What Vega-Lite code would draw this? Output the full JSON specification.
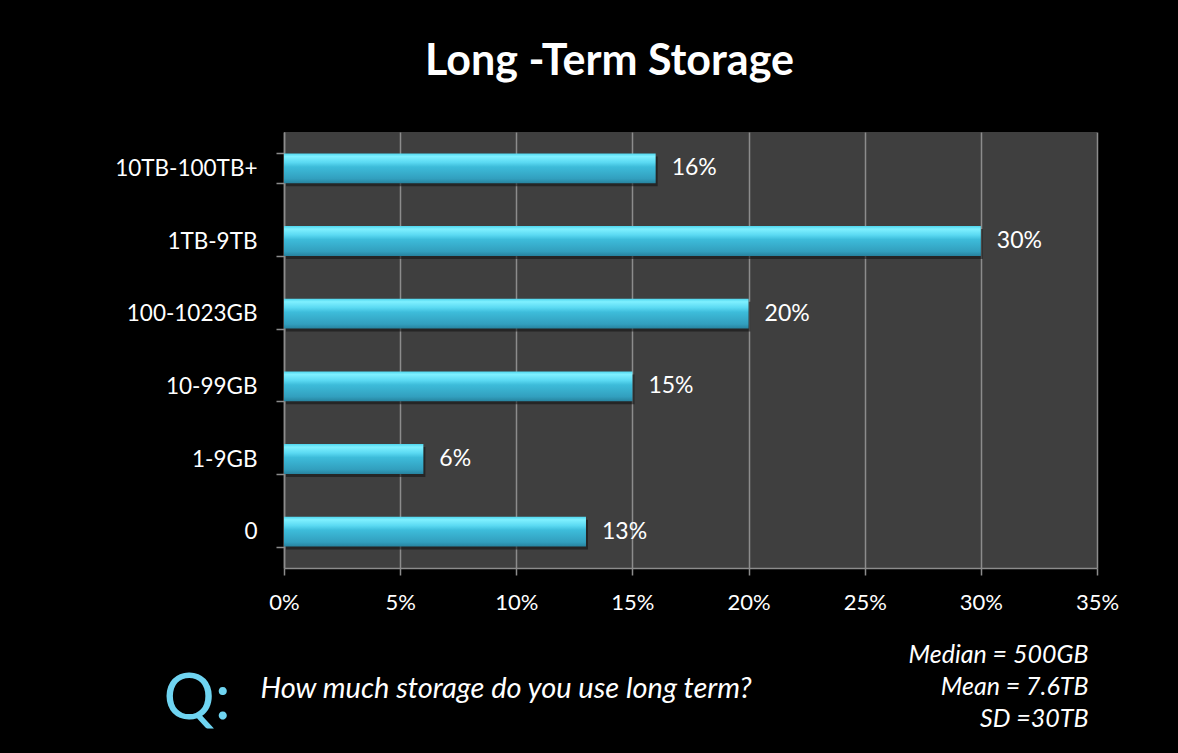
{
  "$schema": "https://vega.github.io/schema/vega-lite/v6.json",
  "autosize": {"type": "none"},
  "width": 813,
  "height": 436,
  "padding": {"left": 284, "top": 132, "right": 81, "bottom": 185},
  "background": "#000000",
  "title": {
    "text": "Long -Term Storage",
    "font": "Lato",
    "fontSize": 43,
    "fontWeight": "bold",
    "color": "#ffffff",
    "anchor": "middle",
    "frame": "group",
    "baseline": "alphabetic",
    "offset": 3,
    "dx": -81
  },
  "config": {
    "view": {"fill": "#3f3f3f", "stroke": null},
    "font": "Lato"
  },
  "data": {
    "values": [
      {"range": "10TB-100TB+", "share": 0.16},
      {"range": "1TB-9TB", "share": 0.30},
      {"range": "100-1023GB", "share": 0.20},
      {"range": "10-99GB", "share": 0.15},
      {"range": "1-9GB", "share": 0.06},
      {"range": "0", "share": 0.13}
    ]
  },
  "encoding": {
    "x": {
      "field": "share",
      "type": "quantitative",
      "scale": {"domain": [0, 0.35], "nice": false, "zero": true},
      "axis": {
        "values": [0, 0.05, 0.1, 0.15, 0.2, 0.25, 0.3, 0.35],
        "format": ".0%",
        "labelFlush": false,
        "grid": true,
        "gridColor": "#8c8c8c",
        "gridWidth": 1.5,
        "domainColor": "#8c8c8c",
        "domainWidth": 1.5,
        "tickColor": "#8c8c8c",
        "tickWidth": 1.5,
        "tickSize": 7,
        "labelFont": "Lato",
        "labelFontSize": 22,
        "labelColor": "#ffffff",
        "labelPadding": 17,
        "title": "How much storage do you use long term?",
        "titleFont": "Lato",
        "titleFontSize": 29,
        "titleFontStyle": "italic",
        "titleFontWeight": "normal",
        "titleColor": "#ffffff",
        "titleAlign": "left",
        "titleBaseline": "alphabetic",
        "titleX": -24,
        "titleY": 129
      }
    }
  },
  "layer": [
    {
      "mark": {"type": "bar", "color": "#111111", "opacity": 0.55, "xOffset": 2, "yOffset": 3},
      "encoding": {
        "y": {
          "field": "range",
          "type": "nominal",
          "sort": null,
          "scale": {"paddingInner": 0.59, "paddingOuter": 0.295},
          "axis": null
        }
      }
    },
    {
      "mark": {
        "type": "bar",
        "color": {
          "gradient": "linear",
          "x1": 0, "y1": 0, "x2": 0, "y2": 1,
          "stops": [
            {"offset": 0, "color": "#4fd6ee"},
            {"offset": 0.1, "color": "#7ff0ff"},
            {"offset": 0.3, "color": "#5ad9f2"},
            {"offset": 0.45, "color": "#3dbcda"},
            {"offset": 0.85, "color": "#329fbe"},
            {"offset": 1, "color": "#27839f"}
          ]
        }
      },
      "encoding": {
        "y": {
          "field": "range",
          "type": "nominal",
          "sort": null,
          "scale": {"paddingInner": 0.59, "paddingOuter": 0.295},
          "axis": {
            "orient": "left",
            "tickBand": "extent",
            "grid": false,
            "domainColor": "#8c8c8c",
            "domainWidth": 1.5,
            "tickColor": "#8c8c8c",
            "tickWidth": 1.5,
            "tickSize": 8,
            "labelFont": "Lato",
            "labelFontSize": 22.5,
            "labelColor": "#ffffff",
            "labelPadding": 19,
            "title": "Q:",
            "titleFont": "Lato",
            "titleFontSize": 64,
            "titleFontWeight": "normal",
            "titleColor": "#6fd4f1",
            "titleAngle": 0,
            "titleAlign": "left",
            "titleBaseline": "alphabetic",
            "titleX": -121,
            "titleY": 586
          }
        }
      }
    },
    {
      "mark": {
        "type": "text",
        "align": "left",
        "baseline": "middle",
        "dx": 16,
        "font": "Lato",
        "fontSize": 23,
        "color": "#ffffff"
      },
      "encoding": {
        "y": {
          "field": "range",
          "type": "nominal",
          "sort": null,
          "scale": {"paddingInner": 0.59, "paddingOuter": 0.295},
          "axis": {
            "orient": "right",
            "domain": false,
            "ticks": false,
            "labels": false,
            "grid": false,
            "title": ["Median = 500GB", "Mean = 7.6TB", "SD =30TB"],
            "titleFont": "Lato",
            "titleFontSize": 25,
            "titleFontStyle": "italic",
            "titleFontWeight": "normal",
            "titleColor": "#ffffff",
            "titleAngle": 0,
            "titleAlign": "right",
            "titleBaseline": "alphabetic",
            "titleLineHeight": 32,
            "titleX": -9,
            "titleY": 530
          }
        },
        "text": {"field": "share", "type": "quantitative", "format": ".0%"}
      }
    }
  ],
  "resolve": {"axis": {"y": "independent"}}
}
